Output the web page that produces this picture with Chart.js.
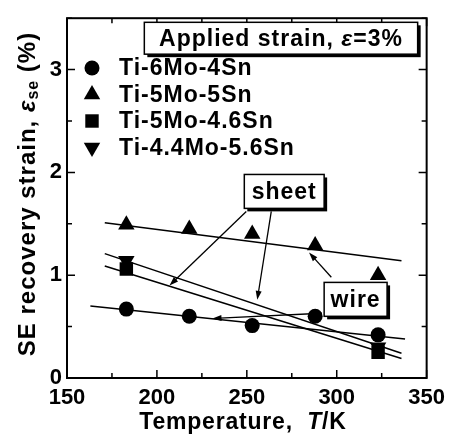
<!DOCTYPE html>
<html>
<head>
<meta charset="utf-8">
<script src="https://cdn.jsdelivr.net/npm/chart.js@4/dist/chart.umd.min.js"></script>
<style>
  html, body { margin: 0; background: #fff; }
</style>
</head>
<body>
<canvas id="chart" width="452" height="439"></canvas>
<script>
// Measured points (temperature in K, recovery strain in %)
const temps = [183, 218, 253, 288, 323];
const ti6Mo4Sn = [0.67, 0.60, 0.51, 0.60, 0.42];
const ti5Mo5Sn = [1.49, 1.45, 1.40, 1.29, 1.00];
const endTemps = [183, 323];
const ti5Mo46Sn = [1.06, 0.25];
const ti44Mo56Sn = [1.14, 0.30];

// Fitted lines
const fitTempsCircle = [163, 338];
const fitCircle = [0.70, 0.38];
const fitTemps = [171, 336];
const fitTriangle = [1.51, 1.14];
const fitDown = [1.21, 0.24];
const fitSquare = [1.09, 0.19];

const xTicks = [150, 200, 250, 300, 350];
const yTicks = [0, 1, 2, 3];

const labels = ['Ti-6Mo-4Sn', 'Ti-5Mo-5Sn', 'Ti-5Mo-4.6Sn', 'Ti-4.4Mo-5.6Sn'];

const FONT = '"Liberation Sans", Arial, sans-serif';

const pts = (xs, ys) => xs.map((x, i) => ({ x: x, y: ys[i] }));

function lineSet(xs, ys) {
    return {
        type: 'line',
        data: pts(xs, ys),
        borderColor: '#000',
        borderWidth: 1.5,
        pointRadius: 0,
        fill: false,
        order: 2
    };
}

const markers = [
    { pointStyle: 'circle', radius: 7.5, rotation: 0 },
    { pointStyle: 'triangle', radius: 9.5, rotation: 0 },
    { pointStyle: 'rect', radius: 9.5, rotation: 0 },
    { pointStyle: 'triangle', radius: 9.5, rotation: 180 }
];

function pointSet(i, xs, ys) {
    const m = markers[i];
    return {
        type: 'scatter',
        label: labels[i],
        data: pts(xs, ys),
        pointStyle: m.pointStyle,
        pointRadius: m.radius,
        pointRotation: m.rotation,
        backgroundColor: '#000',
        borderColor: '#000',
        borderWidth: 0,
        order: 1
    };
}

// Boxes and arrows, placed in data units
const boxes = [
    { x1: 193, x2: 345, y1: 3.46, y2: 3.15, text: ['Applied strain, ', 'ε', '=3%'] },
    { x1: 248.6, x2: 293, y1: 1.98, y2: 1.65, text: ['sheet'] },
    { x1: 293, x2: 328, y1: 0.93, y2: 0.60, text: ['wire'] }
];
const arrows = [
    [249.7, 1.62, 207, 0.90],
    [263.6, 1.62, 255.8, 0.76],
    [297, 0.98, 284.6, 1.22],
    [291.8, 0.63, 230.9, 0.58]
];

function drawArrow(ctx, x1, y1, x2, y2) {
    const a = Math.atan2(y2 - y1, x2 - x1);
    const L = 9, W = 3;
    ctx.beginPath();
    ctx.moveTo(x1, y1);
    ctx.lineTo(x2 - Math.cos(a) * L * 0.8, y2 - Math.sin(a) * L * 0.8);
    ctx.stroke();
    ctx.beginPath();
    ctx.moveTo(x2, y2);
    ctx.lineTo(x2 - Math.cos(a) * L - Math.sin(a) * W, y2 - Math.sin(a) * L + Math.cos(a) * W);
    ctx.lineTo(x2 - Math.cos(a) * L + Math.sin(a) * W, y2 - Math.sin(a) * L - Math.cos(a) * W);
    ctx.closePath();
    ctx.fill();
}

// draws a run of text pieces centred on cx
function drawRich(ctx, parts, cx, cy) {
    let w = 0;
    parts.forEach(p => { ctx.font = p.font; w += ctx.measureText(p.t).width; });
    let x = cx - w / 2;
    parts.forEach(p => {
        ctx.font = p.font;
        ctx.fillText(p.t, x, cy + (p.dy || 0));
        x += ctx.measureText(p.t).width;
    });
}

const decorPlugin = {
    id: 'decor',
    afterDatasetsDraw(chart) {
        const ctx = chart.ctx;
        const xs = chart.scales.x, ys = chart.scales.y;
        const a = chart.chartArea;
        ctx.save();
        ctx.strokeStyle = '#000';
        ctx.fillStyle = '#000';

        // frame
        ctx.lineWidth = 2;
        ctx.strokeRect(a.left, a.top, a.right - a.left, a.bottom - a.top);

        // inward ticks
        ctx.lineWidth = 1.5;
        ys.ticks.forEach(t => {
            const y = ys.getPixelForValue(t.value);
            const len = Number.isInteger(t.value) ? 8 : 5;
            ctx.beginPath();
            ctx.moveTo(a.left, y); ctx.lineTo(a.left + len, y);
            ctx.moveTo(a.right, y); ctx.lineTo(a.right - len, y);
            ctx.stroke();
        });
        xs.ticks.forEach(t => {
            const x = xs.getPixelForValue(t.value);
            const len = t.value % 50 === 0 ? 8 : 5;
            ctx.beginPath();
            ctx.moveTo(x, a.bottom); ctx.lineTo(x, a.bottom - len);
            ctx.moveTo(x, a.top); ctx.lineTo(x, a.top + len);
            ctx.stroke();
        });

        // arrows
        ctx.lineWidth = 1.3;
        arrows.forEach(r => drawArrow(ctx,
            xs.getPixelForValue(r[0]), ys.getPixelForValue(r[1]),
            xs.getPixelForValue(r[2]), ys.getPixelForValue(r[3])));

        // boxes with shadow
        ctx.textBaseline = 'middle';
        ctx.letterSpacing = '1px';
        boxes.forEach(b => {
            const x1 = xs.getPixelForValue(b.x1), x2 = xs.getPixelForValue(b.x2);
            const y1 = ys.getPixelForValue(b.y1), y2 = ys.getPixelForValue(b.y2);
            ctx.fillStyle = '#000';
            ctx.fillRect(x1 + 3, y1 + 3, x2 - x1, y2 - y1);
            ctx.fillStyle = '#fff';
            ctx.fillRect(x1, y1, x2 - x1, y2 - y1);
            ctx.lineWidth = 1.5;
            ctx.strokeRect(x1, y1, x2 - x1, y2 - y1);
            ctx.fillStyle = '#000';
            const parts = b.text.map((t, i) => ({
                t: t,
                font: (i === 1 ? 'italic ' : '') + 'bold 23px ' + FONT
            }));
            drawRich(ctx, parts, (x1 + x2) / 2, (y1 + y2) / 2 + 1);
        });

        // legend
        ctx.textAlign = 'left';
        ctx.font = 'bold 23px ' + FONT;
        labels.forEach((lab, i) => {
            const y = 68 + i * 26.5;
            const m = markers[i];
            Chart.helpers.drawPoint(ctx, {
                pointStyle: m.pointStyle, radius: m.radius, rotation: m.rotation, borderWidth: 0
            }, 92, y);
            ctx.fillStyle = '#000';
            ctx.fillText(lab, 119, y + 1);
        });

        // axis titles
        ctx.letterSpacing = '0.8px';
        drawRich(ctx, [
            { t: 'Temperature,  ', font: 'bold 23px ' + FONT },
            { t: 'T', font: 'italic bold 23px ' + FONT },
            { t: '/K', font: 'bold 23px ' + FONT }
        ], 243, 423);

        ctx.letterSpacing = '1px';
        ctx.translate(28, 194);
        ctx.rotate(-Math.PI / 2);
        drawRich(ctx, [
            { t: 'SE recovery strain, ', font: 'bold 24px ' + FONT },
            { t: 'ε', font: 'italic bold 24px ' + FONT },
            { t: 'se', font: 'bold 16px ' + FONT, dy: 6 },
            { t: ' (%)', font: 'bold 24px ' + FONT }
        ], 0, 0);
        ctx.restore();
    }
};

new Chart(document.getElementById('chart'), {
    type: 'scatter',
    data: {
        datasets: [
            pointSet(0, temps, ti6Mo4Sn),
            pointSet(1, temps, ti5Mo5Sn),
            pointSet(2, endTemps, ti5Mo46Sn),
            pointSet(3, endTemps, ti44Mo56Sn),
            lineSet(fitTempsCircle, fitCircle),
            lineSet(fitTemps, fitTriangle),
            lineSet(fitTemps, fitDown),
            lineSet(fitTemps, fitSquare)
        ]
    },
    options: {
        responsive: false,
        animation: false,
        devicePixelRatio: 1,
        layout: { padding: { top: 12, right: 24, left: 0, bottom: 0 } },
        plugins: { legend: { display: false }, tooltip: { enabled: false } },
        scales: {
            x: {
                type: 'linear',
                min: 150, max: 350,
                grid: { display: false, drawTicks: false },
                border: { display: false },
                afterFit: s => { s.height = 61; },
                ticks: {
                    stepSize: 25,
                    autoSkip: false,
                    maxRotation: 0,
                    padding: 7,
                    color: '#000',
                    font: { family: FONT, size: 22, weight: 'bold' },
                    callback: v => xTicks.includes(v) ? String(v) : ''
                }
            },
            y: {
                type: 'linear',
                min: 0, max: 3.5,
                grid: { display: false, drawTicks: false },
                border: { display: false },
                afterFit: s => { s.width = 67; },
                ticks: {
                    stepSize: 0.5,
                    autoSkip: false,
                    padding: 5,
                    color: '#000',
                    font: { family: FONT, size: 22, weight: 'bold' },
                    callback: v => yTicks.includes(v) ? String(v) : ''
                }
            }
        }
    },
    plugins: [decorPlugin]
});
</script>
</body>
</html>
